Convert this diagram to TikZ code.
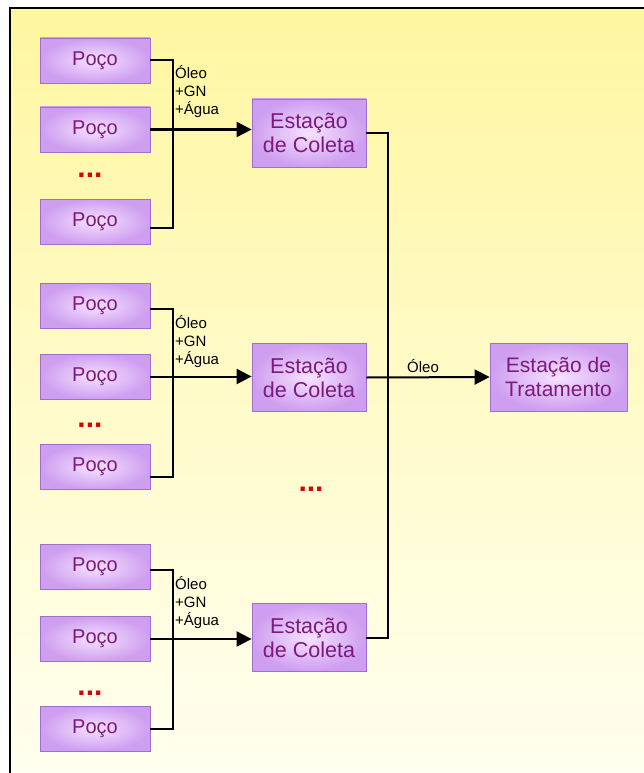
\documentclass[tikz,border=0pt]{standalone}
\usepackage{fontspec}
\setmainfont{Liberation Sans}
\usetikzlibrary{arrows.meta,calc}
\definecolor{bgtop}{RGB}{255,246,160}
\definecolor{bgbot}{RGB}{255,255,240}
\definecolor{boxin}{RGB}{246,226,255}
\definecolor{boxout}{RGB}{206,158,240}
\definecolor{boxedge}{RGB}{160,110,205}
\definecolor{txt}{RGB}{125,25,125}
\definecolor{dotred}{RGB}{205,10,10}
\begin{document}
\begin{tikzpicture}[x=1pt,y=-1pt,
  pbox/.style={draw=boxedge, line width=0.8pt, inner color=boxin, outer color=boxout,
    text=txt, font=\fontsize{20}{22}\selectfont, minimum width=110pt, minimum height=45pt, inner sep=0pt},
  ebox/.style={pbox, minimum width=114pt, minimum height=68pt, align=center,
    font=\fontsize{21.5}{24}\selectfont},
  tbox/.style={ebox, minimum width=137pt, font=\fontsize{21}{24}\selectfont},
  reddots/.style={text=dotred, font=\fontsize{30}{30}\selectfont\bfseries, inner sep=0pt},
  flowlabel/.style={font=\fontsize{15}{18}\selectfont, align=left, inner sep=0pt, anchor=north west},
  wire/.style={line width=2pt, black},
  arr/.style={wire, -{Triangle[length=15pt,width=15pt]}}
]
\useasboundingbox (0,0) rectangle (644,773);
\fill[white] (0,0) rectangle (644,773);
\shade[top color=bgtop, bottom color=bgbot] (10,8) rectangle (644,773);
\draw[line width=1.4pt] (10,773) -- (10,8) -- (644,8);

% group 1
\node[pbox] (p11) at (95,60.5) {Poço};
\node[pbox] (p12) at (95,129.5) {Poço};
\node[reddots] (d1) at (90,175) {...};
\node[pbox] (p13) at (95,221.5) {Poço};
\node[ebox] (e1) at (309,133) {Estação\\de Coleta};
% group 2
\node[pbox] (p21) at (95,305.5) {Poço};
\node[pbox] (p22) at (95,376.5) {Poço};
\node[reddots] (d2) at (90,425) {...};
\node[pbox] (p23) at (95,467) {Poço};
\node[ebox] (e2) at (309,377.5) {Estação\\de Coleta};
% group 3
\node[pbox] (p31) at (95,567) {Poço};
\node[pbox] (p32) at (95,639) {Poço};
\node[reddots] (d3) at (90,693) {...};
\node[pbox] (p33) at (95,728.5) {Poço};
\node[ebox] (e3) at (309,637.5) {Estação\\de Coleta};
% middle dots
\node[reddots] (dm) at (311,489) {...};
% treatment
\node[tbox] (t) at (558.5,377) {Estação de\\Tratamento};

% left buses
\draw[wire] (p11.east) -- ++(23,0) |- ([yshift=-6pt]p13.east);
\draw[arr] (p12.east) -- (e1.west |- p12.east);
\draw[wire] ([yshift=-3pt]p21.east) -- ++(23,0) |- ([yshift=-10pt]p23.east);
\draw[arr] (p22.east) -- (e2.west |- p22.east);
\draw[wire] ([yshift=-3pt]p31.east) -- ++(23,0) |- (p33.east);
\draw[arr] (p32.east) -- (e3.west |- p32.east);

% labels
\node[flowlabel] (l1) at (175,65) {Óleo\\+GN\\+Água};
\node[flowlabel] (l2) at (175,315) {Óleo\\+GN\\+Água};
\node[flowlabel] (l3) at (175,576) {Óleo\\+GN\\+Água};

% right bus
\draw[wire] (e1.east) -- ++(22,0) coordinate (b1) |- (e3.east);
\draw[arr] (e2.east) -- (t.west);
\node[font=\fontsize{15}{16}\selectfont, inner sep=0pt] (lt) at (423,366) {Óleo};
\end{tikzpicture}
\end{document}
